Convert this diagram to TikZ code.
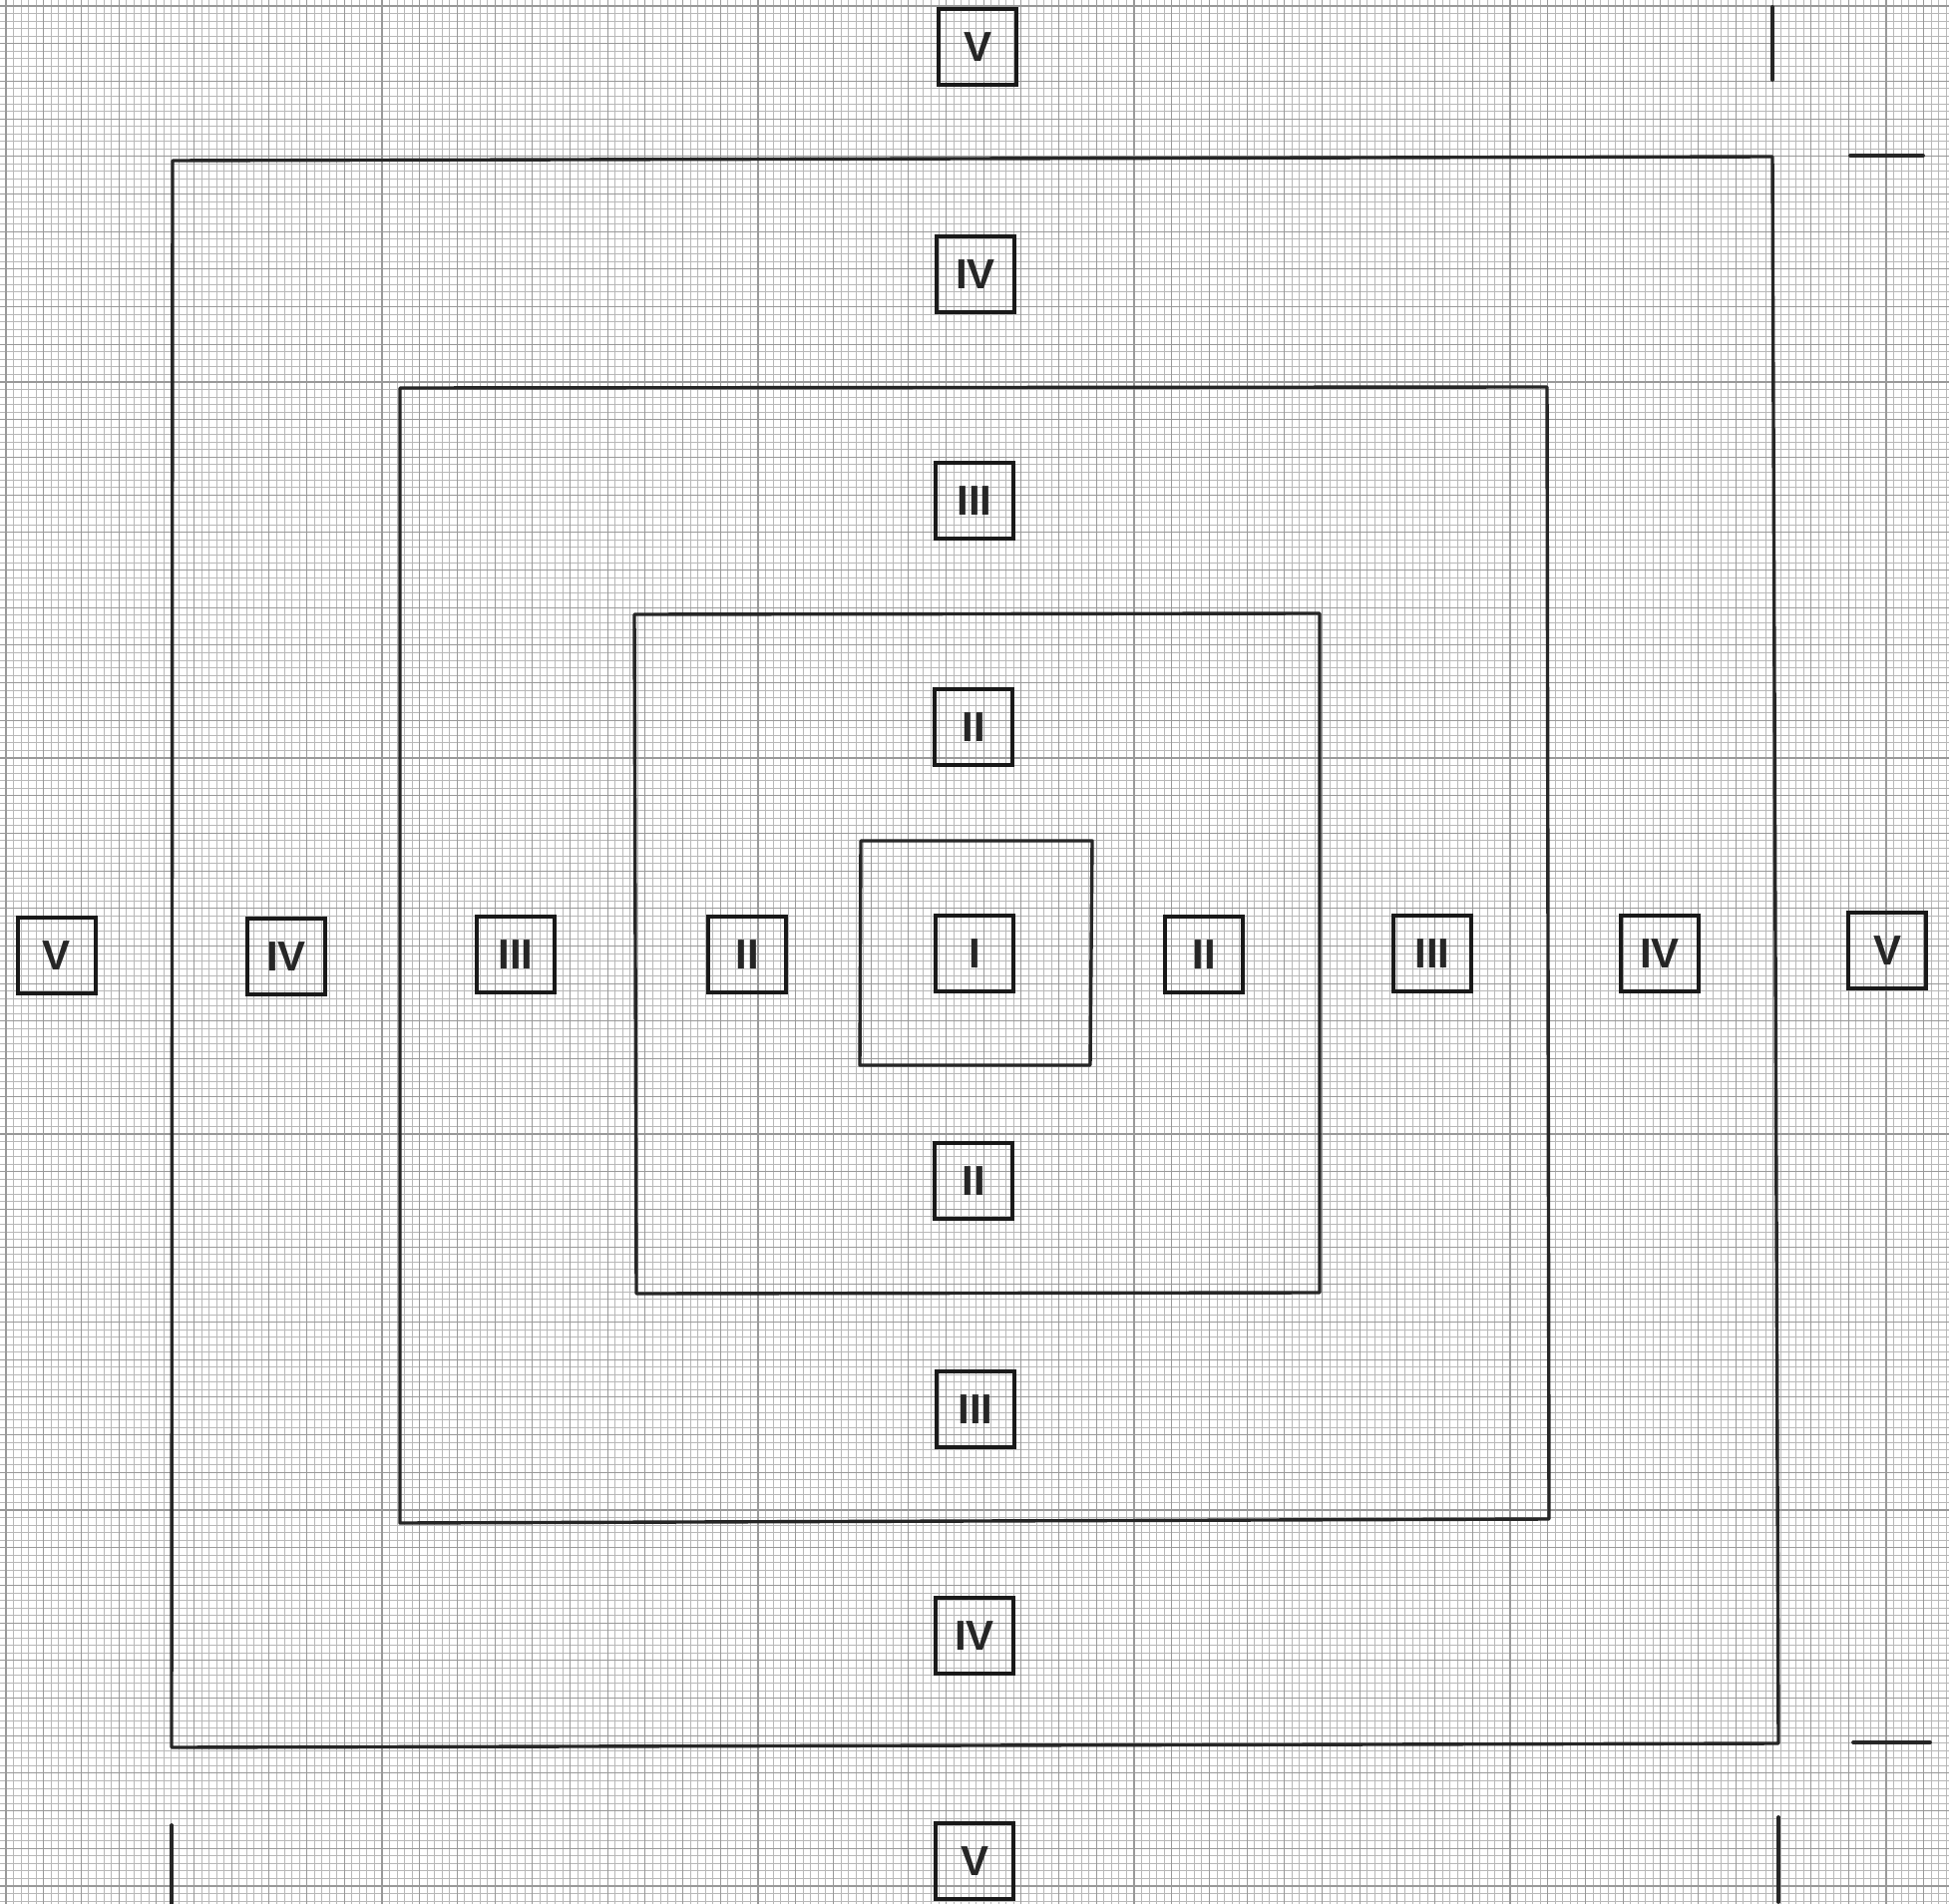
\documentclass[tikz,border=0pt]{standalone}
\usepackage{fontspec}
\setmainfont{Liberation Sans}
\begin{document}
\begin{tikzpicture}[x=0.5pt,y=-0.5pt,
  minorgrid/.style={draw=black!28, line width=0.45pt},
  majorgrid/.style={draw=black!40, line width=0.55pt},
  zone/.style={draw=black!85, line width=1.7pt, line cap=round, line join=round},
  loosemark/.style={draw=black!85, line width=1.9pt, line cap=round},
  lab/.style={draw=black!90, line width=2pt, minimum width=39pt, minimum height=38pt,
    inner sep=0pt, font=\fontsize{21}{21}\selectfont\bfseries, text=black!85}]
\useasboundingbox (0,0) rectangle (1954,1909);
\fill[white] (0,0) rectangle (1954,1909);
% graph paper
\foreach \i in {0,...,259} {
  \draw[minorgrid] ({6+\i*7.54},0) -- ({6+\i*7.54},1909);
}
\foreach \i in {0,...,253} {
  \draw[minorgrid] (0,{6+\i*7.54}) -- (1954,{6+\i*7.54});
}
\foreach \i in {0,...,51} {
  \draw[majorgrid] ({6+\i*37.7},0) -- ({6+\i*37.7},1909);
}
\foreach \i in {0,...,50} {
  \draw[majorgrid] (0,{6+\i*37.7}) -- (1954,{6+\i*37.7});
}
% nested zones
\draw[zone] (173,161) -- (1777,157) -- (1783,1748) -- (172,1752) -- cycle;
\draw[zone] (401,389) -- (1551,388) -- (1553,1523) -- (401,1527) -- cycle;
\draw[zone] (636,616) -- (1323,615) -- (1323,1296) -- (638,1297) -- cycle;
\draw[zone] (863,843) -- (1095,843) -- (1093,1068) -- (862,1068) -- cycle;
% loose marks of the outermost zone
\coordinate (tra) at (1777,7);   \coordinate (trb) at (1777,80);
\coordinate (trc) at (1855,156); \coordinate (trd) at (1928,156);
\coordinate (bla) at (172,1830); \coordinate (blb) at (172,1909);
\coordinate (bra) at (1783,1822);\coordinate (brb) at (1783,1907);
\coordinate (brc) at (1858,1747);\coordinate (brd) at (1935,1747);
\draw[loosemark] (tra) -- (trb);
\draw[loosemark] (trc) -- (trd);
\draw[loosemark] (bla) -- (blb);
\draw[loosemark] (bra) -- (brb);
\draw[loosemark] (brc) -- (brd);
% labels, horizontal row
\node[lab] (rV1)  at (57,958)   {V};
\node[lab] (rIV1) at (287,959)  {IV};
\node[lab] (rIII1) at (517,957) {III};
\node[lab] (rII1) at (749,957)  {II};
\node[lab] (cI)   at (977,956)  {I};
\node[lab] (rII2) at (1207,957) {II};
\node[lab] (rIII2) at (1436,956) {III};
\node[lab] (rIV2) at (1664,956) {IV};
\node[lab] (rV2)  at (1892,953) {V};
% labels, vertical column
\node[lab] (cV1)  at (980,47)   {V};
\node[lab] (cIV1) at (978,275)  {IV};
\node[lab] (cIII1) at (977,502) {III};
\node[lab] (cII1) at (976,729)  {II};
\node[lab] (cII2) at (976,1184) {II};
\node[lab] (cIII2) at (978,1413) {III};
\node[lab] (cIV2) at (977,1640) {IV};
\node[lab] (cV2)  at (977,1866) {V};
\end{tikzpicture}
\end{document}
